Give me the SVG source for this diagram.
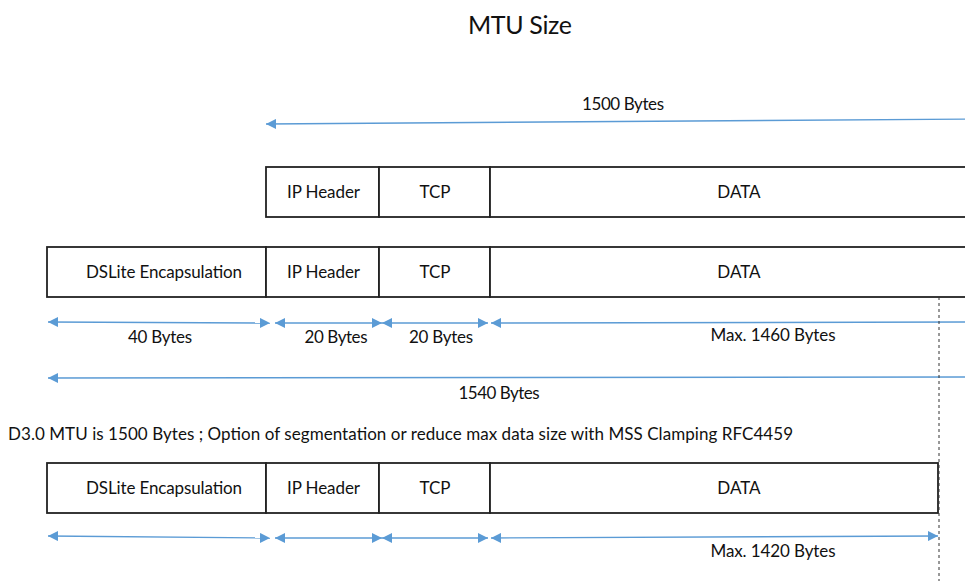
<svg xmlns="http://www.w3.org/2000/svg" width="965" height="581" viewBox="0 0 965 581">
<style>
.box{fill:#fff;stroke:#222;stroke-width:1.8}
.t{font-family:Lato,"Open Sans","Liberation Sans",sans-serif;font-size:17px;fill:#111}
.c{text-anchor:middle}
.dim{stroke:#5b9bd5;stroke-width:1.4;fill:none}
</style>
<defs>
<marker id="ah" viewBox="0 0 10 10" refX="10" refY="5" markerWidth="10" markerHeight="10" markerUnits="userSpaceOnUse" orient="auto-start-reverse">
<path d="M0,0 L10,5 L0,10 Z" fill="#5b9bd5"/>
</marker>
</defs>
<text class="t c" x="520" y="34" style="font-size:25px" textLength="104">MTU Size</text>
<text class="t c" x="623" y="110" textLength="82">1500 Bytes</text>

<g id="row1">
<g id="r1-ip"><rect class="box" x="266" y="167" width="113" height="50"/><text class="t c" x="323.5" y="198" textLength="73">IP Header</text></g>
<g id="r1-tcp"><rect class="box" x="379" y="167" width="111" height="50"/><text class="t c" x="435" y="198">TCP</text></g>
<g id="r1-data"><rect class="box" x="490" y="167" width="490" height="50"/><text class="t c" x="739" y="198">DATA</text></g>
</g>

<g id="row2">
<g id="r2-ds"><rect class="box" x="47" y="247" width="219" height="50"/><text class="t c" x="164" y="278" textLength="156">DSLite Encapsulation</text></g>
<g id="r2-ip"><rect class="box" x="266" y="247" width="113" height="50"/><text class="t c" x="323.5" y="278" textLength="73">IP Header</text></g>
<g id="r2-tcp"><rect class="box" x="379" y="247" width="111" height="50"/><text class="t c" x="435" y="278">TCP</text></g>
<g id="r2-data"><rect class="box" x="490" y="247" width="490" height="50"/><text class="t c" x="739" y="278">DATA</text></g>
</g>

<g id="row3">
<g id="r3-ds"><rect class="box" x="47" y="463" width="219" height="50"/><text class="t c" x="164" y="494" textLength="156">DSLite Encapsulation</text></g>
<g id="r3-ip"><rect class="box" x="266" y="463" width="113" height="50"/><text class="t c" x="323.5" y="494" textLength="73">IP Header</text></g>
<g id="r3-tcp"><rect class="box" x="379" y="463" width="111" height="50"/><text class="t c" x="435" y="494">TCP</text></g>
<g id="r3-data"><rect class="box" x="490" y="463" width="448" height="50"/><text class="t c" x="739" y="494">DATA</text></g>
</g>

<g id="connectors">
<line class="dim" x1="980" y1="119" x2="266" y2="124" marker-end="url(#ah)"/>
<line class="dim" x1="48" y1="322" x2="270" y2="323" marker-start="url(#ah)" marker-end="url(#ah)"/>
<line class="dim" x1="275" y1="323" x2="382" y2="323" marker-start="url(#ah)" marker-end="url(#ah)"/>
<line class="dim" x1="382" y1="323" x2="488" y2="323" marker-start="url(#ah)" marker-end="url(#ah)"/>
<line class="dim" x1="980" y1="322" x2="491" y2="323" marker-end="url(#ah)"/>
<line class="dim" x1="980" y1="377" x2="48" y2="378" marker-end="url(#ah)"/>
<line class="dim" x1="48" y1="536" x2="270" y2="538" marker-start="url(#ah)" marker-end="url(#ah)"/>
<line class="dim" x1="275" y1="538" x2="382" y2="538" marker-start="url(#ah)" marker-end="url(#ah)"/>
<line class="dim" x1="382" y1="538" x2="488" y2="538" marker-start="url(#ah)" marker-end="url(#ah)"/>
<line class="dim" x1="491" y1="538" x2="938" y2="536" marker-start="url(#ah)" marker-end="url(#ah)"/>
<line x1="939" y1="297" x2="939" y2="581" stroke="#333" stroke-width="1" stroke-dasharray="3,3"/>
</g>

<text class="t c" x="160" y="343" textLength="64">40 Bytes</text>
<text class="t c" x="336" y="343" textLength="63">20 Bytes</text>
<text class="t c" x="441" y="343" textLength="64">20 Bytes</text>
<text class="t c" x="773" y="341" textLength="125">Max. 1460 Bytes</text>
<text class="t c" x="499" y="399" textLength="81">1540 Bytes</text>
<text class="t" x="8" y="440" textLength="785">D3.0 MTU is 1500 Bytes ; Option of segmentation or reduce max data size with MSS Clamping RFC4459</text>
<text class="t c" x="773" y="557" textLength="125">Max. 1420 Bytes</text>
</svg>
